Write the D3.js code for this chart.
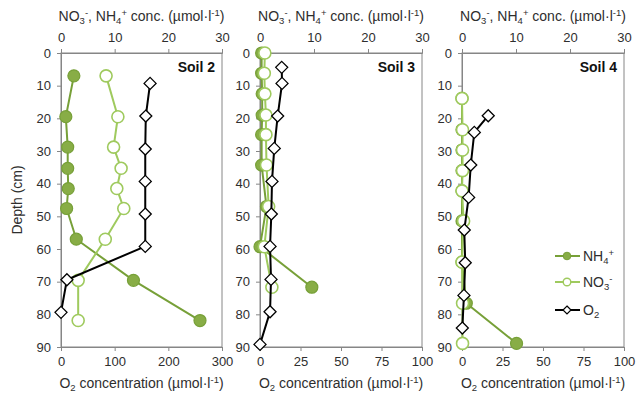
<!DOCTYPE html>
<html><head><meta charset="utf-8">
<script src="https://cdn.jsdelivr.net/npm/d3@7"></script>
<style>body{margin:0;background:#fff;} svg{display:block;} text{font-family:"Liberation Sans",Arial,sans-serif;}</style>
</head><body><svg id="c" width="637" height="394"></svg>
<script>
// ---- data ----
const soils = ["Soil 2", "Soil 3", "Soil 4"];
const depthTicks = [0,10,20,30,40,50,60,70,80,90];
const concTicks = [0,10,20,30];
const o2TicksSoil2 = [0,100,200,300];
const o2TicksOther = [0,25,50,75,100];

// Soil 2
const chemDepthSoil2 = [7, 19.5, 28.8, 35.3, 41.5, 47.6, 57, 69.6, 81.9];
const nh4Soil2 = [2.4, 0.9, 1.25, 1.25, 1.35, 1.05, 2.85, 13.5, 25.9];
const no3Soil2 = [8.4, 10.6, 9.8, 11.2, 10.4, 11.7, 8.25, 3.2, 3.2];
const o2DepthSoil2 = [9.3, 19.3, 29.4, 39.3, 49.3, 59.2, 69.4, 79.4];
const o2Soil2 = [166, 158, 157, 157, 157, 157, 11, 0];

// Soil 3
const chemDepthSoil3 = [0, 6.2, 12.5, 19, 25, 34.3, 47, 59.3, 71.7];
const nh4Soil3 = [0.3, 0.3, 0.4, 0.4, 0.3, 0.3, 1.2, 0.0, 9.6];
const no3Soil3 = [0.9, 0.8, 0.9, 1.1, 1.1, 1.2, 1.6, 0.8, 2.2];
const o2DepthSoil3 = [4.4, 9.3, 19.3, 29.2, 39.3, 49.3, 59.2, 69.3, 79.2, 89.2];
const o2Soil3 = [13.4, 13.6, 10.9, 8.8, 7.4, 7.0, 6.2, 6.8, 6.2, 0];

// Soil 4
const chemDepthSoil4 = [13.9, 23.5, 29.7, 36, 42.2, 51.4, 64, 76.6, 88.9];
const nh4Soil4 = [0, 0, 0, 0, 0, 0, 0, 0.8, 10.1];
const no3Soil4 = [0, 0.1, 0.1, 0.1, 0, 0.3, 0, 0.1, 0.1];
const o2DepthSoil4 = [19.2, 24.3, 34.3, 44.2, 54.2, 64.2, 74.2, 84.2];
const o2Soil4 = [16.2, 7.6, 5.4, 4.1, 1.4, 2.0, 1.2, 0.2];

// ---- layout ----
const panels = [
  {name: soils[0], x0: 61, x1: 222, o2Max: 300, o2Ticks: o2TicksSoil2,
   chemDepth: chemDepthSoil2, nh4: nh4Soil2, no3: no3Soil2, o2Depth: o2DepthSoil2, o2: o2Soil2},
  {name: soils[1], x0: 260, x1: 422, o2Max: 100, o2Ticks: o2TicksOther,
   chemDepth: chemDepthSoil3, nh4: nh4Soil3, no3: no3Soil3, o2Depth: o2DepthSoil3, o2: o2Soil3},
  {name: soils[2], x0: 462, x1: 624, o2Max: 100, o2Ticks: o2TicksOther,
   chemDepth: chemDepthSoil4, nh4: nh4Soil4, no3: no3Soil4, o2Depth: o2DepthSoil4, o2: o2Soil4}
];
const Y0 = 53, Y1 = 347;
const axisCol = "#868686", textCol = "#2e2e2e";
const nh4Fill = "#88ad46", nh4Line = "#77a038", no3Col = "#9fca5e";
const titleSize = 14, tickSize = 13;

const svg = d3.select("#c");
const y = d3.scaleLinear().domain([0, 90]).range([Y0, Y1]);

function styleAxis(g) {
  g.select(".domain").attr("stroke", axisCol).attr("stroke-width", 1);
  g.selectAll(".tick line").attr("stroke", axisCol);
  g.selectAll(".tick text").attr("fill", textCol).attr("font-size", tickSize)
    .attr("font-family", '"Liberation Sans",Arial,sans-serif');
}

function titleConc(sel, cx, yb) {
  const t = sel.append("text").attr("x", cx).attr("y", yb).attr("text-anchor", "middle")
    .attr("font-size", titleSize).attr("fill", textCol);
  t.append("tspan").text("NO");
  t.append("tspan").attr("dy", 3).attr("font-size", 9.5).text("3");
  t.append("tspan").attr("dy", -8).attr("font-size", 9.5).text("-");
  t.append("tspan").attr("dy", 5).text(", NH");
  t.append("tspan").attr("dy", 3).attr("font-size", 9.5).text("4");
  t.append("tspan").attr("dy", -8).attr("font-size", 9.5).text("+");
  t.append("tspan").attr("dy", 5).text(" conc. (µmol·l");
  t.append("tspan").attr("dy", -5).attr("font-size", 9.5).text("-1");
  t.append("tspan").attr("dy", 5).text(")");
}
function titleO2(sel, cx, yb) {
  const t = sel.append("text").attr("x", cx).attr("y", yb).attr("text-anchor", "middle")
    .attr("font-size", titleSize).attr("fill", textCol);
  t.append("tspan").text("O");
  t.append("tspan").attr("dy", 3).attr("font-size", 9.5).text("2");
  t.append("tspan").attr("dy", -3).text(" concentration (µmol·l");
  t.append("tspan").attr("dy", -5).attr("font-size", 9.5).text("-1");
  t.append("tspan").attr("dy", 5).text(")");
}

const diamondPath = "M0,-6L6,0L0,6L-6,0Z";

panels.forEach(p => {
  const xc = d3.scaleLinear().domain([0, 30]).range([p.x0, p.x1]);
  const xo = d3.scaleLinear().domain([0, p.o2Max]).range([p.x0, p.x1]);
  const g = svg.append("g");

  g.append("rect").attr("x", p.x0).attr("y", Y0).attr("width", p.x1 - p.x0).attr("height", Y1 - Y0)
    .attr("fill", "none").attr("stroke", axisCol);

  g.append("g").attr("transform", `translate(0,${Y0})`)
    .call(d3.axisTop(xc).tickValues(concTicks).tickSize(4).tickPadding(7)).call(styleAxis);
  g.append("g").attr("transform", `translate(0,${Y1})`)
    .call(d3.axisBottom(xo).tickValues(p.o2Ticks).tickSize(4).tickPadding(6)).call(styleAxis);
  g.append("g").attr("transform", `translate(${p.x0},0)`)
    .call(d3.axisLeft(y).tickValues(depthTicks).tickSize(4).tickPadding(6)).call(styleAxis);

  titleConc(g, (p.x0 + p.x1) / 2, 21);
  titleO2(g, (p.x0 + p.x1) / 2, 388);

  g.append("text").attr("x", p.x1 - 7).attr("y", 72).attr("text-anchor", "end")
    .attr("font-size", 14).attr("font-weight", "bold").attr("fill", "#111").text(p.name);

  const chem = p.chemDepth.map((d, i) => ({d, nh4: p.nh4[i], no3: p.no3[i]}));
  const ox = p.o2Depth.map((d, i) => ({d, v: p.o2[i]}));

  g.append("path").datum(chem).attr("fill", "none").attr("stroke", nh4Line).attr("stroke-width", 2)
    .attr("d", d3.line().x(d => xc(d.nh4)).y(d => y(d.d)));
  g.selectAll(".nh4").data(chem).join("circle").attr("cx", d => xc(d.nh4)).attr("cy", d => y(d.d))
    .attr("r", 6).attr("fill", nh4Fill).attr("stroke", nh4Line).attr("stroke-width", 1.2);
  g.append("path").datum(chem).attr("fill", "none").attr("stroke", no3Col).attr("stroke-width", 2)
    .attr("d", d3.line().x(d => xc(d.no3)).y(d => y(d.d)));
  g.selectAll(".no3").data(chem).join("circle").attr("cx", d => xc(d.no3)).attr("cy", d => y(d.d))
    .attr("r", 6).attr("fill", "#fff").attr("stroke", no3Col).attr("stroke-width", 1.6);
  g.append("path").datum(ox).attr("fill", "none").attr("stroke", "#000").attr("stroke-width", 2)
    .attr("d", d3.line().x(d => xo(d.v)).y(d => y(d.d)));
  g.selectAll(".o2").data(ox).join("path").attr("d", diamondPath)
    .attr("transform", d => `translate(${xo(d.v)},${y(d.d)})`)
    .attr("fill", "#fff").attr("stroke", "#000").attr("stroke-width", 1.3);
});

svg.append("text").attr("transform", "translate(22,200) rotate(-90)").attr("text-anchor", "middle")
  .attr("font-size", titleSize).attr("fill", textCol).text("Depth (cm)");

// legend
const lg = svg.append("g");
const legY = [256, 282, 310];
const lx0 = 555, lx1 = 580, lm = 567;
[0,1,2].forEach(i => {
  const col = i === 0 ? nh4Line : i === 1 ? no3Col : "#000";
  lg.append("line").attr("x1", lx0).attr("x2", lx1).attr("y1", legY[i]).attr("y2", legY[i])
    .attr("stroke", col).attr("stroke-width", 2);
  if (i === 0) lg.append("circle").attr("cx", lm).attr("cy", legY[i]).attr("r", 3.8).attr("fill", nh4Fill).attr("stroke", nh4Line);
  if (i === 1) lg.append("circle").attr("cx", lm).attr("cy", legY[i]).attr("r", 3.8).attr("fill", "#fff").attr("stroke", no3Col).attr("stroke-width", 1.4);
  if (i === 2) lg.append("path").attr("d", "M0,-4L4,0L0,4L-4,0Z").attr("transform", `translate(${lm},${legY[i]})`)
    .attr("fill", "#fff").attr("stroke", "#000").attr("stroke-width", 1.2);
  const t = lg.append("text").attr("x", 583).attr("y", legY[i] + 5).attr("font-size", 14).attr("fill", textCol);
  if (i === 0) { t.append("tspan").text("NH"); t.append("tspan").attr("dy", 3).attr("font-size", 9.5).text("4");
                 t.append("tspan").attr("dy", -8).attr("font-size", 9.5).text("+"); }
  if (i === 1) { t.append("tspan").text("NO"); t.append("tspan").attr("dy", 3).attr("font-size", 9.5).text("3");
                 t.append("tspan").attr("dy", -8).attr("font-size", 9.5).text("-"); }
  if (i === 2) { t.append("tspan").text("O"); t.append("tspan").attr("dy", 3).attr("font-size", 9.5).text("2"); }
});
</script></body></html>
